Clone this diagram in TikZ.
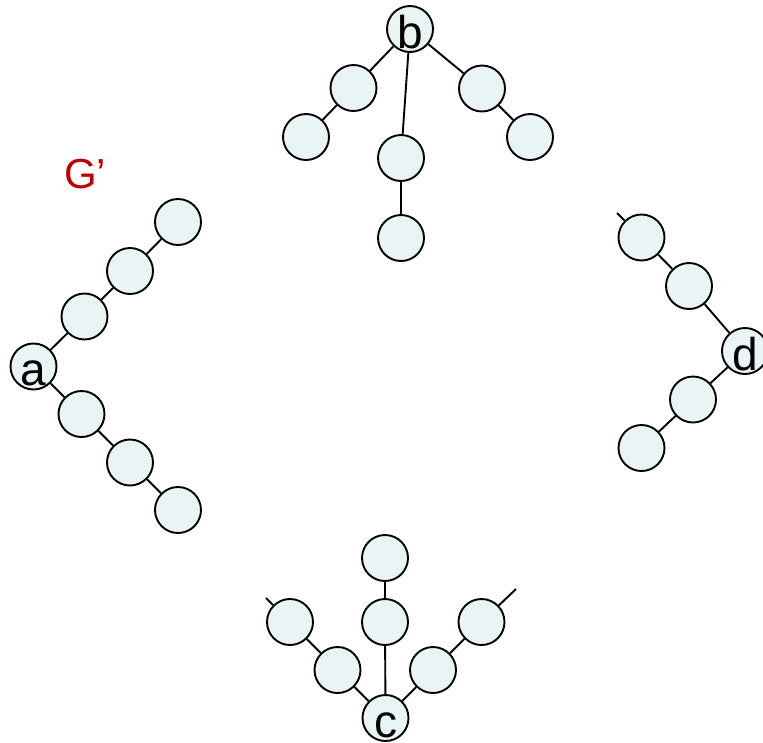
\documentclass[tikz,border=0pt]{standalone}
\usepackage{fontspec}
\setmainfont{Liberation Sans}
\definecolor{vfill}{HTML}{E9F4F4}
\definecolor{gred}{HTML}{C00000}
\tikzset{
  vtx/.style={circle, draw=black, fill=vfill, line width=1.9pt,
    minimum size=46pt, inner sep=0pt, text height=38pt, text depth=0pt,
    font=\fontsize{46}{46}\selectfont},
  edge/.style={draw=black, line width=1.9pt}
}
\begin{document}
\begin{tikzpicture}[x=1pt, y=-1pt]
\useasboundingbox (0,0) rectangle (763,742);
\clip (0,0) rectangle (763,742);

% label
\node[text=gred, font=\fontsize{42}{42}\selectfont, anchor=base] (lbl) at (85,188) {G’};

% tree rooted at b
\node[vtx] (b)   at (410,29) {b};
\node[vtx] (bl1) at (353.5,88) {};
\node[vtx] (bl2) at (306,137) {};
\node[vtx] (bm1) at (401,158) {};
\node[vtx] (bm2) at (401,238) {};
\node[vtx] (br1) at (482,88.5) {};
\node[vtx] (br2) at (530,137) {};
\draw[edge] (b) -- (bl1) (bl1) -- (bl2) (b) -- (bm1) (bm1) -- (bm2)
            (b) -- (br1) (br1) -- (br2);

% tree rooted at a
\node[vtx] (a)   at (33.5,366.5) {a};
\node[vtx] (au1) at (84.5,316.5) {};
\node[vtx] (au2) at (130,271) {};
\node[vtx] (au3) at (178,222) {};
\node[vtx] (ad1) at (81.5,414) {};
\node[vtx] (ad2) at (130,462.5) {};
\node[vtx] (ad3) at (178,510) {};
\draw[edge] (a) -- (au1) (au1) -- (au2) (au2) -- (au3)
            (a) -- (ad1) (ad1) -- (ad2) (ad2) -- (ad3);

% tree rooted at d
\node[vtx] (d)   at (745,351) {d};
\node[vtx] (du1) at (689,286) {};
\node[vtx] (du2) at (641.5,237.5) {};
\node[vtx] (dd1) at (693,399.5) {};
\node[vtx] (dd2) at (641.5,448) {};
\coordinate (dstub) at (617,213);
\draw[edge] (d) -- (du1) (du1) -- (du2) (du2) -- (dstub)
            (d) -- (dd1) (dd1) -- (dd2);

% tree rooted at c
\node[vtx] (c)   at (385.5,718) {c};
\node[vtx] (cm1) at (385,622) {};
\node[vtx] (cm2) at (385,558) {};
\node[vtx] (cl1) at (337.5,670) {};
\node[vtx] (cl2) at (290,622) {};
\node[vtx] (cr1) at (433,670) {};
\node[vtx] (cr2) at (481.5,622) {};
\coordinate (clstub) at (266,598);
\coordinate (crstub) at (516,589);
\draw[edge] (c) -- (cm1) (cm1) -- (cm2)
            (c) -- (cl1) (cl1) -- (cl2) (cl2) -- (clstub)
            (c) -- (cr1) (cr1) -- (cr2) (cr2) -- (crstub);
\end{tikzpicture}
\end{document}
